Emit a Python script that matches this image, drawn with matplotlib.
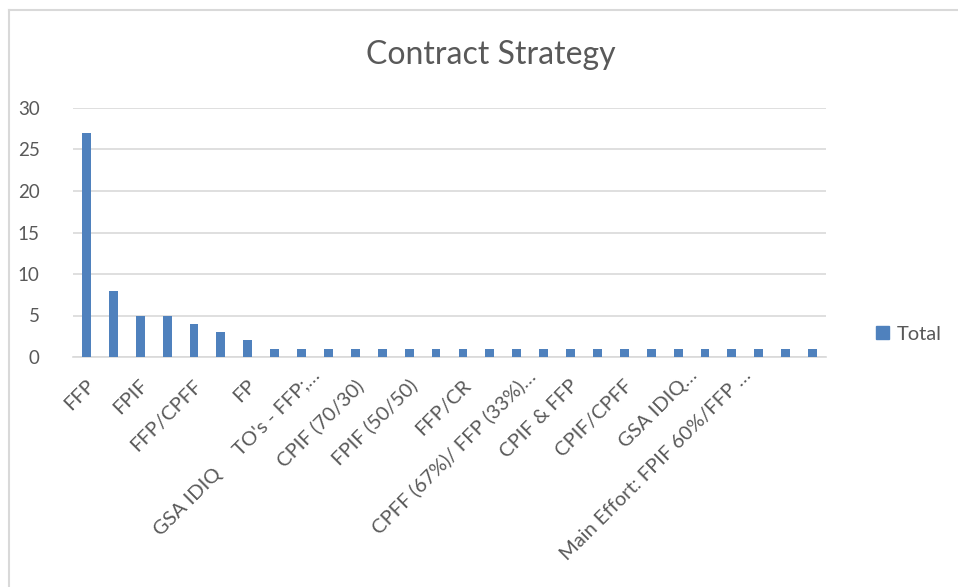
import matplotlib.pyplot as plt
from matplotlib.lines import Line2D
from matplotlib.patches import Patch
import matplotlib.transforms as mtransforms

plt.rcParams['font.family'] = ['Lato', 'DejaVu Sans']

# Data (28 categories, only every other label is shown)
labels = [
    "FFP", "", "FPIF", "", "FFP/CPFF", "", "FP", "",
    "GSA IDIQ     TO's - FFP;\u2026", "", "CPIF (70/30)", "", "FPIF (50/50)", "",
    "FFP/CR", "", "CPFF (67%)/ FFP (33%)\u2026", "", "CPIF & FFP", "",
    "CPIF/CPFF", "", "GSA IDIQ\u2026", "", "Main Effort: FPIF 60%/FFP \u2026", "",
    "", "",
]
totals = [27, 8, 5, 5, 4, 3, 2, 1, 1, 1, 1, 1, 1, 1,
          1, 1, 1, 1, 1, 1, 1, 1, 1, 1, 1, 1, 1, 1]

bar_color = '#4f81bd'
text_color = '#595959'
grid_color = '#d9d9d9'

fig = plt.figure(figsize=(9.58, 5.87), dpi=100)
ax = fig.add_axes([73 / 958, 1 - 357 / 587, (826 - 73) / 958, (357 - 108) / 587])

x = list(range(len(totals)))
ax.bar(x, totals, width=0.33, color=bar_color, zorder=3)

ax.set_xlim(-0.5, len(totals) - 0.5)
ax.set_ylim(0, 30)
ax.set_yticks(range(0, 31, 5))
ax.yaxis.grid(True, color=grid_color, lw=1.2, zorder=0)
for s in ['top', 'right', 'left']:
    ax.spines[s].set_visible(False)
ax.spines['bottom'].set_color(grid_color)
ax.spines['bottom'].set_linewidth(1.2)
ax.tick_params(axis='y', length=0, pad=24, labelsize=13.5, labelcolor=text_color)
ax.tick_params(axis='x', length=0, pad=17, labelsize=14.5, labelcolor=text_color)

ax.set_xticks(x[::2])
ax.set_xticklabels(labels[::2], rotation=45, ha='right', va='center',
                   rotation_mode='anchor')
for lab in ax.get_xticklabels():
    if lab.get_text().endswith('\u2026'):
        dx, dy = 16, 8
    else:
        dx, dy = 5, -2
    lab.set_transform(lab.get_transform() +
                      mtransforms.ScaledTranslation(dx / 100, dy / 100, fig.dpi_scale_trans))

fig.text(491 / 958, 1 - 55 / 587, 'Contract Strategy', ha='center', va='center',
         fontsize=23, color=text_color)

fig.legend(handles=[Patch(color=bar_color, label='Total')], loc='center left',
           bbox_to_anchor=(858 / 958, 1 - 334 / 587), frameon=False,
           fontsize=14.5, labelcolor=text_color, handlelength=0.65, handleheight=0.65,
           handletextpad=0.35)

# chart border
fig.add_artist(Line2D([9 / 958, 9 / 958], [0, 1 - 10 / 587], color=grid_color,
                      lw=1.5, transform=fig.transFigure))
fig.add_artist(Line2D([9 / 958, 1], [1 - 10 / 587, 1 - 10 / 587], color=grid_color,
                      lw=1.5, transform=fig.transFigure))

fig.savefig('out.png', dpi=100)
